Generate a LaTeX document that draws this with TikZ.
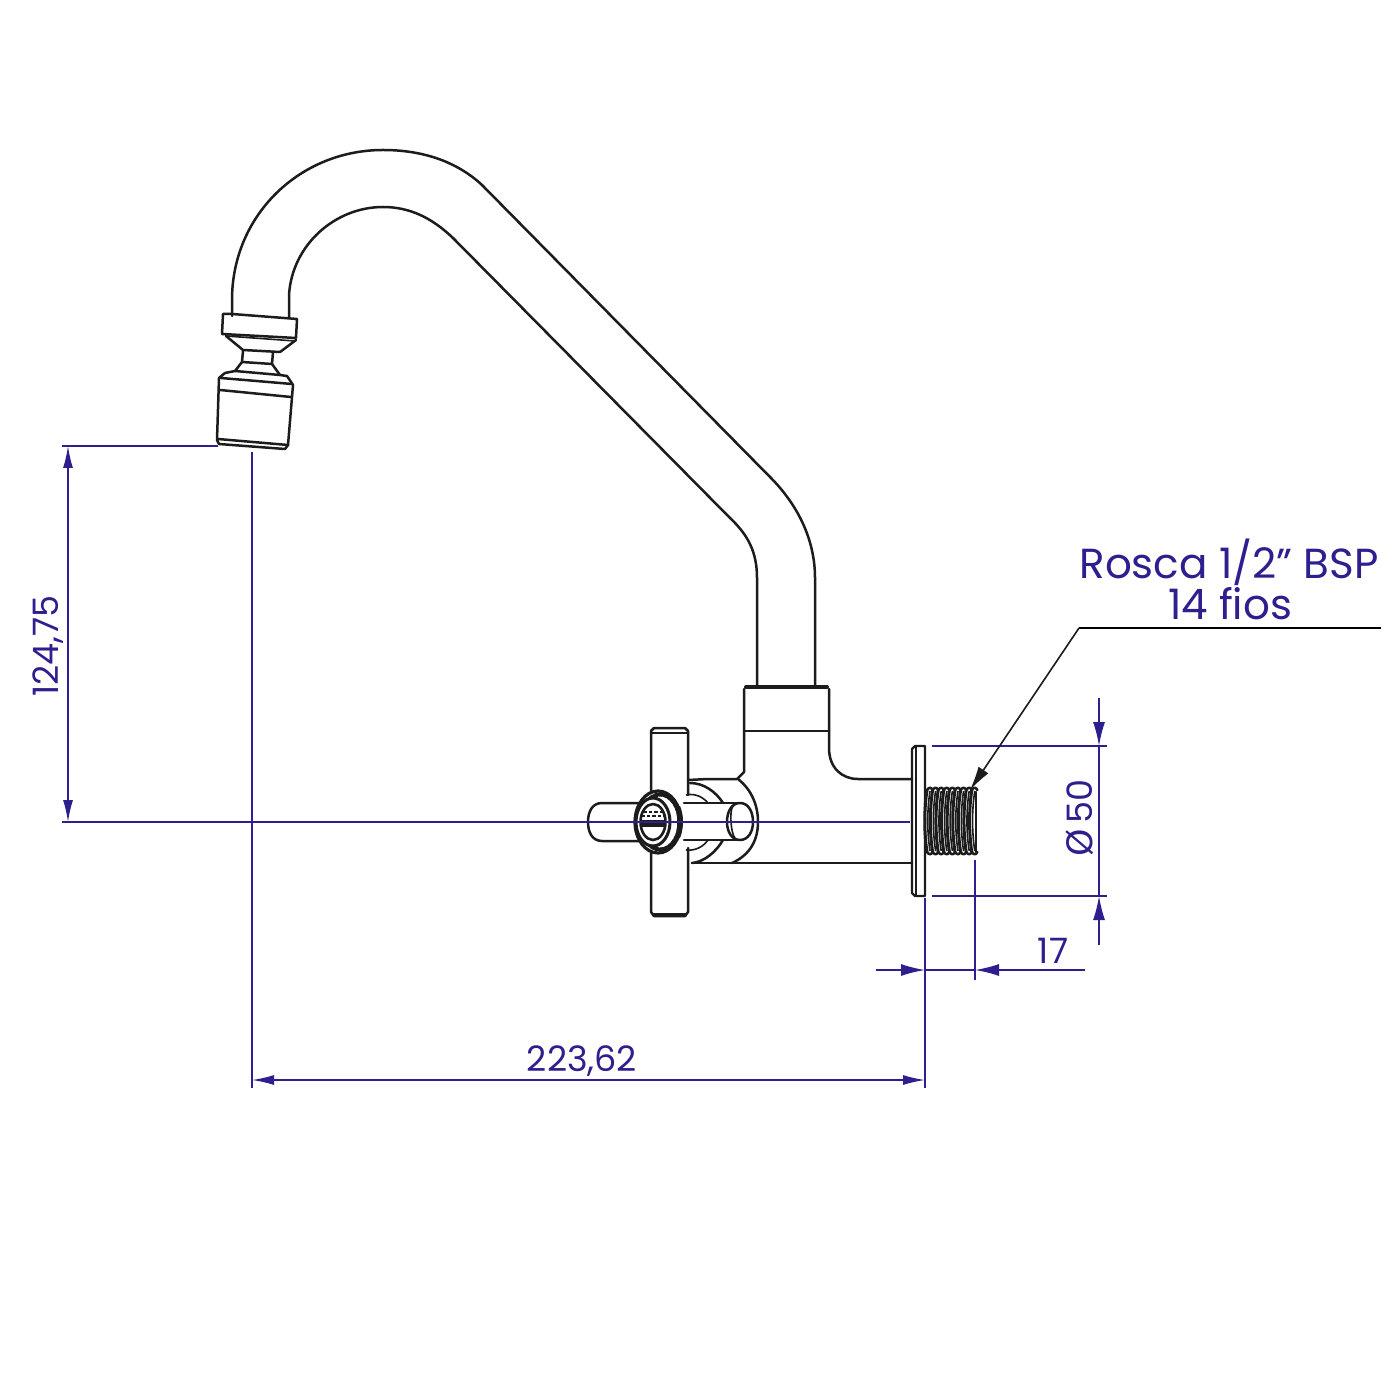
\documentclass[tikz,border=0pt]{standalone}
\usepackage{fontspec}
\setmainfont{Poppins}
\usetikzlibrary{arrows.meta}
\definecolor{dimc}{HTML}{2E1F8E}
\definecolor{inkc}{HTML}{1C1C1C}
\tikzset{
 part/.style={draw=inkc,line width=1.25pt,line join=round,line cap=round},
 thin part/.style={draw=inkc,line width=0.8pt,line join=round},
 dimline/.style={draw=dimc,line width=0.75pt},
 dimarrow/.style={dimline,{Latex[length=11pt,width=5pt]}-{Latex[length=11pt,width=5pt]}},
 endarrow/.style={dimline,-{Latex[length=12pt,width=6pt]}},
 dimtext/.style={text=dimc,font=\fontsize{17.5}{19}\selectfont,inner sep=0pt},
 calltext/.style={text=dimc,font=\fontsize{21}{23}\selectfont,inner sep=0pt},
}
\begin{document}
\begin{tikzpicture}[x=0.5pt,y=-0.5pt]
\useasboundingbox (0,0) rectangle (1400,1400);
\fill[white] (0,0) rectangle (1400,1400);
% dimension anchor points
\coordinate (spoutL) at (68,446);
\coordinate (spoutB) at (252,1080);
\coordinate (axisL) at (68,822);
\coordinate (faceB) at (925,1080);
% spout
\draw[part] (232,316) -- (232,300) .. controls (232,215) and (300,150) .. (383,150)
  .. controls (420,150) and (455,160) .. (482,185) -- (770,477)
  .. controls (798,505) and (815,540) .. (815,578) -- (815,686);
\draw[part] (289,317) -- (289,295) .. controls (292,245) and (335,207) .. (383,207)
  .. controls (410,207) and (432,218) .. (453,238) -- (730,518)
  .. controls (748,535) and (757,552) .. (757,578) -- (757,686);
% body
\draw[part,line width=2pt] (746,687) -- (827,687);
\draw[part] (744,689) -- (744,772) -- (737,779);
\draw[part] (829,689) -- (829,748) .. controls (829,768) and (842,779) .. (858,779) -- (912,779);
\draw[thin part] (744,731) -- (829,731);
\draw[part] (692,863) -- (912,863);
% plate
\draw[thin part,line width=1.1pt] (925,746) -- (915,746) -- (912,749) -- (912,893) -- (915,896) -- (925,896) -- cycle;
\draw[thin part] (916,746) -- (916,896);
% thread
\foreach \i in {0,...,8}{
 \draw[part,line width=1.5pt] ({927+\i*5.6},790) .. controls ({924+\i*5.6},810) and ({924+\i*5.6},832) .. ({927+\i*5.6},852);
 \draw[thin part] ({930+\i*5.6},791) .. controls ({927+\i*5.6},810) and ({927+\i*5.6},832) .. ({930+\i*5.6},851);
 \draw[part] ({927+\i*5.6},790) .. controls ({929+\i*5.6},787) and ({931+\i*5.6},787) .. ({932.6+\i*5.6},790);
 \draw[part] ({927+\i*5.6},852) .. controls ({929+\i*5.6},855) and ({931+\i*5.6},855) .. ({932.6+\i*5.6},852);
}
\draw[part] (925,790) -- (925,852);
\draw[part] (976,792) -- (976,852);
% rings behind handle
\draw[part] (738,779) .. controls (752,790) and (758,806) .. (758,822) .. controls (758,840) and (750,855) .. (732,863);
\draw[part] (688,780) -- (708,779) -- (737,779);
\draw[part] (690,783) .. controls (704,783) and (716,792) .. (723,803);
\draw[part] (723,840) .. controls (716,852) and (704,862) .. (692,863);
\draw[thin part] (686,795) .. controls (695,793) and (703,797) .. (708,803);
\draw[thin part] (708,840) .. controls (703,847) and (695,851) .. (686,850);
% cross handle: vertical arm
\draw[part] (651,792) -- (651,731) -- (654,728) -- (685,728) -- (688,731) -- (688,795);
\draw[thin part] (651,733) -- (688,733);
\draw[part] (651,852) -- (651,912) -- (654,916) -- (685,916) -- (688,912) -- (688,848);
\draw[part,line width=2pt] (654,915) -- (685,915);
% horizontal arms
\draw[part] (640,803) -- (602,803) .. controls (592,803) and (588,812) .. (588,822) .. controls (588,832) and (592,841) .. (602,841) -- (640,841);
\draw[part] (684,803) -- (740,803);
\draw[part] (684,840) -- (740,840);
\draw[part] (740,803) .. controls (748,803) and (753,811) .. (753,822) .. controls (753,832) and (748,840) .. (740,840) .. controls (732,840) and (727,832) .. (727,822) .. controls (727,811) and (732,803) .. (740,803);
\draw[thin part] (733,806) .. controls (729,811) and (731,834) .. (735,838);
% knob
\fill[white] (658,822) ellipse [x radius=23,y radius=31];
\draw[part,line width=1.6pt] (658,822) ellipse [x radius=23,y radius=31];
\draw[part,line width=2pt,dash pattern=on 1.6pt off 0.8pt] (660,822) ellipse [x radius=19.5,y radius=27.5];
\fill[inkc] (680,806) .. controls (684,815) and (684,828) .. (680,838) -- (675,838) .. controls (678,828) and (678,815) .. (675,806) -- cycle;
\fill[white] (653,822) ellipse [x radius=17,y radius=24];
\draw[part,line width=1.5pt] (653,822) ellipse [x radius=17,y radius=24];
\draw[part,line width=1.3pt] (653,822) ellipse [x radius=12.5,y radius=18];
\draw[thin part,dash pattern=on 1.6pt off 1pt] (644,812) -- (662,812);
\draw[thin part,dash pattern=on 1.6pt off 1pt] (642,816) -- (664,816);
\fill[inkc] (641,820) rectangle (665,827);
% aerator
\draw[part] (232,314) -- (223,314) -- (222,334) -- (296,338) -- (297,319) -- cycle;
\draw[thin part] (226,336) -- (295,341);
\draw[part] (226,336) -- (243,350) -- (280,352) -- (296,340);
\draw[part] (243,351) -- (242,362) -- (272,364) -- (273,352);
\draw[part] (242,362) -- (235,371) -- (225,373) -- (219,378) -- (217,440) -- (219,444) -- (285,449) -- (288,445) -- (293,385) -- (287,376) -- (280,375) -- (272,364);
\draw[part] (235,371) -- (280,375);
\draw[part] (221,378) -- (292,384);
\draw[part] (220,390) -- (291,397);
\draw[part] (218,439) -- (288,445);
% dimensions (blue)
\draw[dimline] (62,446) -- (218,446);
\draw[dimline] (252,452) -- (252,1088);
\draw[dimline] (62,822) -- (910,822);
\draw[dimarrow] (spoutL) -- (axisL);
\draw[dimarrow] (spoutB) -- (faceB);
\draw[dimline] (925,898) -- (925,1088);
\draw[dimline] (975,860) -- (975,980);
\draw[dimline] (932,746) -- (1107,746);
\draw[dimline] (932,896) -- (1107,896);
\coordinate (dA) at (1099,698); \coordinate (dB) at (1099,746);
\coordinate (dC) at (1099,945); \coordinate (dD) at (1099,896);
\draw[dimline] (dB) -- (dD);
\draw[endarrow] (dA) -- (dB);
\draw[endarrow] (dC) -- (dD);
\coordinate (tA) at (876,970); \coordinate (tB) at (925,970);
\coordinate (tC) at (1085,970); \coordinate (tD) at (975,970);
\draw[dimline] (tB) -- (tD);
\draw[endarrow] (tA) -- (tB);
\draw[endarrow] (tC) -- (tD);
% leader
\coordinate (lA) at (1381,628); \coordinate (lB) at (1079,628); \coordinate (lC) at (970,790);
\draw[line width=1.4pt,black] (lA) -- (lB);
\draw[inkc,line width=0.8pt,-{Latex[length=12pt,width=6pt]}] (lB) -- (lC);
% labels
\node[dimtext,rotate=90] (t1) at (48,646) {124,75};
\node[dimtext] (t2) at (582,1061) {223,62};
\node[dimtext] (t3) at (1053,951) {17};
\node[dimtext,rotate=90] (t4) at (1080,818) {\fontspec{DejaVu Sans}Ø\,\fontspec{Poppins}50};
\node[calltext] (t5) at (1229,562) {Rosca 1/2" BSP};
\node[calltext] (t6) at (1230,604) {14 fios};
\end{tikzpicture}
\end{document}
